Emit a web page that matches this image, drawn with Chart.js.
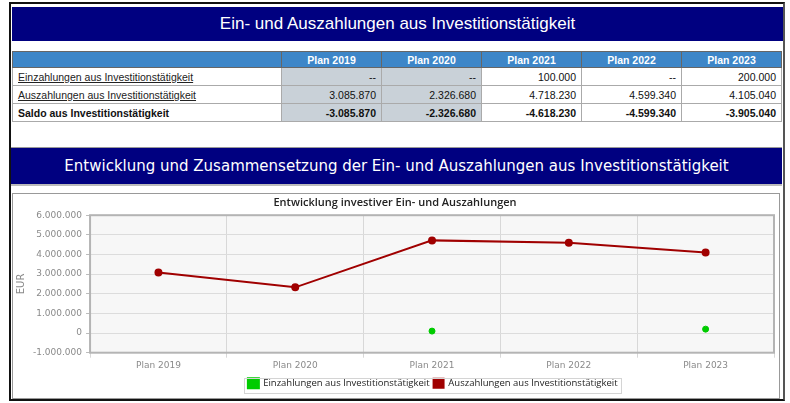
<!DOCTYPE html>
<html lang="de">
<head>
  <meta charset="UTF-8">
  <title>Ein- und Auszahlungen aus Investitionstätigkeit</title>
  <script src="https://cdn.jsdelivr.net/npm/chart.js"></script>
  <style>
    body { margin: 0; background: #fff; width: 790px; height: 403px; overflow: hidden; position: relative; }
    #rahmen { position: absolute; left: 9px; top: 2px; width: 772px; height: 395px; border: 2px solid #111; border-right-color: #555; }
    .kopf { position: absolute; background: #000080; color: #fff; text-align: center; }
    #kopf1 { left: 12px; top: 7px; width: 771px; height: 34px; line-height: 34px;
      font-family: "Liberation Sans Narrow", "Arial Narrow", sans-serif; font-size: 17px; }
    #kopf2 { left: 11px; top: 147px; width: 771px; height: 36px; line-height: 36px; border-top: 1px solid #999; border-bottom: 2px solid #bbb;
      font-family: "DejaVu Sans", Verdana, sans-serif; font-size: 15px; }
    table { position: absolute; left: 12px; top: 51px; width: 770px; border-collapse: collapse;
      font-family: "Liberation Sans Narrow", "Arial Narrow", sans-serif; font-size: 10.5px; color: #111; }
    td, th { border: 1px solid #aaa; padding: 0 5px; }
    th { background: #3d86c8; color: #fff; height: 15px; font-weight: bold; border-color: #666; }
    td { height: 17px; text-align: right; }
    td.name { text-align: left; width: 258px; }
    td.name u { color: #222; }
    td.grau { background: #c9d1d8; }
    tr.saldo td { font-weight: bold; }
    #panel { position: absolute; left: 12px; top: 193px; width: 766px; height: 204px; border: 1px solid #999; background: #fff; }
    #chartBox { position: absolute; left: 0; top: 0; width: 766px; height: 204px; }
  </style>
</head>
<body>
  <div id="rahmen"></div>
  <div class="kopf" id="kopf1">Ein- und Auszahlungen aus Investitionstätigkeit</div>

  <table id="tabelle"></table>

  <div class="kopf" id="kopf2">Entwicklung und Zusammensetzung der Ein- und Auszahlungen aus Investitionstätigkeit</div>

  <div id="panel">
    <div id="chartBox"><canvas id="investChart"></canvas></div>
  </div>

  <script>
    // Daten
    const kategorien = ['Plan 2019', 'Plan 2020', 'Plan 2021', 'Plan 2022', 'Plan 2023'];
    const einzahlungen = [null, null, 100000, null, 200000];
    const auszahlungen = [3085870, 2326680, 4718230, 4599340, 4105040];
    const saldo = [-3085870, -2326680, -4618230, -4599340, -3905040];
    const yTicks = [-1000000, 0, 1000000, 2000000, 3000000, 4000000, 5000000, 6000000];
    const grauSpalten = [0, 1]; // Plan 2019 und 2020 grau hinterlegt

    function fmt(v) {
      if (v === null) return '--';
      const s = Math.abs(v).toString().replace(/\B(?=(\d{3})+(?!\d))/g, '.');
      return (v < 0 ? '-' : '') + s;
    }

    // Tabelle aufbauen
    const tab = document.getElementById('tabelle');
    let html = '<tr><th></th>' + kategorien.map(k => '<th>' + k + '</th>').join('') + '</tr>';
    const zeilen = [
      ['Einzahlungen aus Investitionstätigkeit', einzahlungen, true, ''],
      ['Auszahlungen aus Investitionstätigkeit', auszahlungen, true, ''],
      ['Saldo aus Investitionstätigkeit', saldo, false, 'saldo']
    ];
    zeilen.forEach(z => {
      html += '<tr class="' + z[3] + '"><td class="name">' + (z[2] ? '<u>' + z[0] + '</u>' : z[0]) + '</td>';
      z[1].forEach((v, i) => {
        html += '<td class="' + (grauSpalten.includes(i) ? 'grau' : '') + '">' + fmt(v) + '</td>';
      });
      html += '</tr>';
    });
    tab.innerHTML = html;

    // Plot-Hintergrund und Rahmen
    const plotFlaeche = {
      id: 'plotFlaeche',
      beforeDraw(chart) {
        const a = chart.chartArea, c = chart.ctx;
        c.save();
        c.fillStyle = '#f7f7f7';
        c.fillRect(a.left, a.top, a.right - a.left, a.bottom - a.top);
        c.restore();
      },
      afterDatasetsDraw(chart) {
        const a = chart.chartArea, c = chart.ctx;
        c.save();
        c.strokeStyle = '#b4b4b4';
        c.lineWidth = 2;
        c.strokeRect(a.left, a.top, a.right - a.left, a.bottom - a.top);
        c.restore();
      }
    };

    // Legende etwas nach rechts schieben und einrahmen
    const legendenRahmen = {
      id: 'legendenRahmen',
      afterUpdate(chart) {
        const lg = chart.legend;
        lg.left += 38;
        lg.right += 38;
        lg.adjustHitBoxes();
      },
      afterDraw(chart) {
        const lg = chart.legend;
        const boxes = lg.legendHitBoxes;
        if (!boxes || !boxes.length) return;
        const l = Math.min(...boxes.map(b => b.left)) - 4;
        const r = Math.max(...boxes.map(b => b.left + b.width)) + 4;
        const mitte = (lg.top + lg.bottom) / 2;
        const c = chart.ctx;
        c.save();
        c.strokeStyle = '#d4d4d4';
        c.lineWidth = 1;
        c.strokeRect(Math.round(l) + 0.5, Math.round(mitte - 8) + 0.5, Math.round(r - l), 15);
        c.restore();
      }
    };

    const ctx = document.getElementById('investChart').getContext('2d');
    new Chart(ctx, {
      type: 'line',
      data: {
        labels: kategorien,
        datasets: [
          {
            label: 'Einzahlungen aus Investitionstätigkeit',
            data: einzahlungen,
            showLine: false,
            backgroundColor: '#00cc00',
            borderColor: '#00cc00',
            pointRadius: 3,
            pointHoverRadius: 3
          },
          {
            label: 'Auszahlungen aus Investitionstätigkeit',
            data: auszahlungen,
            borderColor: '#a00000',
            backgroundColor: '#a00000',
            borderWidth: 2,
            pointRadius: 3,
            pointHoverRadius: 3,
            tension: 0
          }
        ]
      },
      options: {
        responsive: true,
        maintainAspectRatio: false,
        animation: false,
        layout: { padding: { left: 2, right: 4, top: 2, bottom: 0 } },
        plugins: {
          title: {
            display: true,
            text: 'Entwicklung investiver Ein- und Auszahlungen',
            color: '#222',
            font: { family: 'Open Sans', size: 11, weight: '600' },
            padding: { top: 0, bottom: 6 }
          },
          legend: {
            position: 'bottom',
            labels: {
              boxWidth: 10, boxHeight: 9,
              color: '#222',
              font: { family: 'Open Sans', size: 9.5 },
              padding: 4
            }
          },
          tooltip: { enabled: false }
        },
        scales: {
          x: {
            offset: true,
            grid: { offset: true, color: '#d8d8d8', drawTicks: true, tickLength: 5 },
            border: { display: false },
            ticks: { color: '#8a8a8a', font: { family: 'DejaVu Sans', size: 9 }, padding: 3 }
          },
          y: {
            min: -1000000,
            max: 6000000,
            afterBuildTicks(scale) { scale.ticks = yTicks.map(v => ({ value: v })); },
            grid: { color: '#dcdcdc', tickColor: '#bbb', tickLength: 4 },
            border: { display: false },
            ticks: {
              color: '#8a8a8a',
              font: { family: 'DejaVu Sans', size: 9 },
              padding: 4,
              callback: v => fmt(v)
            },
            title: {
              display: true,
              text: 'EUR',
              color: '#8a8a8a',
              font: { family: 'DejaVu Sans', size: 10 },
              padding: { top: 0, bottom: 2 }
            }
          }
        }
      },
      plugins: [plotFlaeche, legendenRahmen]
    });
  </script>
</body>
</html>
